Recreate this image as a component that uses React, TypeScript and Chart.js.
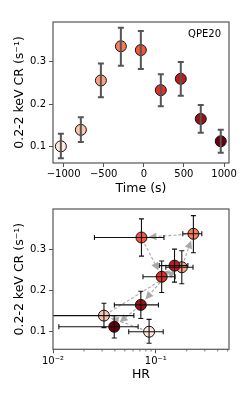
import React, { useEffect, useRef } from "react";
import { Chart, registerables } from "chart.js";
Chart.register(...registerables);

const times = [-1034, -785, -535, -286, -37, 212, 461, 710, 959];
const rates = [0.1, 0.139, 0.256, 0.337, 0.328, 0.233, 0.26, 0.165, 0.112];
const rateLo = [0.072, 0.11, 0.216, 0.291, 0.283, 0.195, 0.22, 0.132, 0.085];
const rateHi = [0.13, 0.169, 0.296, 0.381, 0.373, 0.271, 0.3, 0.198, 0.139];
const hr = [0.086, 0.0313, 0.179, 0.232, 0.0725, 0.114, 0.152, 0.0715, 0.0394];
const hrLo = [0.0545, 0.004, 0.125, 0.183, 0.0253, 0.075, 0.108, 0.0395, 0.0114];
const hrHi = [0.118, 0.0612, 0.23, 0.28, 0.12, 0.154, 0.205, 0.106, 0.0673];
const colors = ["#fde6dc", "#fcc5ad", "#fca082", "#fb7a5a", "#f5553c", "#e32f27", "#c4161c", "#9f0e14", "#67000d"];
const timeTicks = [-1000, -500, 0, 500, 1000];
const rateTicks = [0.1, 0.2, 0.3];
const hrTicks = [0.01, 0.1];
const hrTickLabels = ["10⁻²", "10⁻¹"];
const hrMinorTicks = [0.02, 0.03, 0.04, 0.05, 0.06, 0.07, 0.08, 0.09, 0.2, 0.3, 0.4, 0.5];
const yLabel = "0.2-2 keV CR (s⁻¹)";
const xLabelTop = "Time (s)";
const xLabelBottom = "HR";
const annotation = "QPE20";

const FONT = "'DejaVu Sans', sans-serif";
const FRAME = "#555";

const framePlugin = {
  id: "frame",
  afterDraw(chart: any) {
    const { ctx, chartArea: a } = chart;
    ctx.save();
    ctx.strokeStyle = FRAME;
    ctx.lineWidth = 1.2;
    ctx.strokeRect(a.left, a.top, a.right - a.left, a.bottom - a.top);
    ctx.restore();
  },
};

function makeErrPlugin(xs: number[], ys: number[], yLo: number[], yHi: number[], xLo: number[] | null, xHi: number[] | null, color: string, width: number, cap: number) {
  return {
    id: "errbars",
    afterDatasetsDraw(chart: any) {
      const { ctx, chartArea: a, scales } = chart;
      const sx = scales.x, sy = scales.y;
      ctx.save();
      ctx.beginPath();
      ctx.rect(a.left, a.top, a.right - a.left, a.bottom - a.top);
      ctx.clip();
      ctx.strokeStyle = color;
      ctx.lineWidth = width;
      for (let i = 0; i < xs.length; i++) {
        const px = sx.getPixelForValue(xs[i]);
        const py = sy.getPixelForValue(ys[i]);
        const y1 = sy.getPixelForValue(yLo[i]);
        const y2 = sy.getPixelForValue(yHi[i]);
        ctx.beginPath();
        ctx.moveTo(px, y1); ctx.lineTo(px, y2);
        ctx.moveTo(px - cap, y1); ctx.lineTo(px + cap, y1);
        ctx.moveTo(px - cap, y2); ctx.lineTo(px + cap, y2);
        if (xLo && xHi) {
          const x1 = sx.getPixelForValue(xLo[i]);
          const x2 = sx.getPixelForValue(xHi[i]);
          ctx.moveTo(x1, py); ctx.lineTo(x2, py);
          ctx.moveTo(x1, py - cap); ctx.lineTo(x1, py + cap);
          ctx.moveTo(x2, py - cap); ctx.lineTo(x2, py + cap);
        }
        ctx.stroke();
      }
      ctx.restore();
    },
  };
}

const arrowPlugin = {
  id: "arrows",
  beforeDatasetsDraw(chart: any) {
    const { ctx, scales } = chart;
    const sx = scales.x, sy = scales.y;
    ctx.save();
    ctx.strokeStyle = "#a8a8a8";
    ctx.fillStyle = "#a8a8a8";
    ctx.lineWidth = 1.1;
    for (let i = 0; i < hr.length - 1; i++) {
      const x0 = sx.getPixelForValue(hr[i]), y0 = sy.getPixelForValue(rates[i]);
      const x1 = sx.getPixelForValue(hr[i + 1]), y1 = sy.getPixelForValue(rates[i + 1]);
      const dx = x1 - x0, dy = y1 - y0;
      const len = Math.hypot(dx, dy);
      if (len < 16) continue;
      const ux = dx / len, uy = dy / len;
      const sxp = x0 + ux * 7, syp = y0 + uy * 7;
      const ex = x1 - ux * 7, ey = y1 - uy * 7;
      const hl = 8, hw = 3.8;
      const bx = ex - ux * hl, by = ey - uy * hl;
      ctx.setLineDash([3, 2]);
      ctx.beginPath();
      ctx.moveTo(sxp, syp); ctx.lineTo(bx, by);
      ctx.stroke();
      ctx.setLineDash([]);
      ctx.beginPath();
      ctx.moveTo(ex, ey);
      ctx.lineTo(bx - uy * hw, by + ux * hw);
      ctx.lineTo(bx + uy * hw, by - ux * hw);
      ctx.closePath();
      ctx.fill();
    }
    ctx.restore();
  },
};

const minorPlugin = {
  id: "minor",
  afterDraw(chart: any) {
    const { ctx, chartArea: a, scales } = chart;
    ctx.save();
    ctx.strokeStyle = FRAME;
    ctx.lineWidth = 0.8;
    ctx.beginPath();
    for (const v of hrMinorTicks) {
      const px = scales.x.getPixelForValue(v);
      if (px < a.left || px > a.right) continue;
      ctx.moveTo(px, a.bottom); ctx.lineTo(px, a.bottom + 2.2);
    }
    ctx.stroke();
    ctx.restore();
  },
};

const annotPlugin = {
  id: "annot",
  afterDraw(chart: any) {
    const { ctx, chartArea: a } = chart;
    ctx.save();
    ctx.font = `10px ${FONT}`;
    ctx.fillStyle = "#000";
    ctx.textAlign = "right";
    ctx.textBaseline = "middle";
    ctx.fillText(annotation, a.right - 8, a.top + 12);
    ctx.restore();
  },
};

function yScale(min: number, max: number) {
  return {
    type: "linear",
    min, max,
    afterBuildTicks: (s: any) => { s.ticks = rateTicks.map((v) => ({ value: v })); },
    afterFit: (s: any) => { s.width = 53; },
    ticks: { color: "#000", font: { family: FONT, size: 10 }, padding: 3, callback: (v: any) => Number(v).toFixed(1) },
    grid: { display: true, drawOnChartArea: false, drawTicks: true, tickLength: 4, tickColor: FRAME, tickWidth: 1 },
    border: { display: false },
    title: { display: true, text: yLabel, color: "#000", font: { family: FONT, size: 12.5 }, padding: { top: 12.5, bottom: 0 } },
  };
}

export default function App() {
  const topRef = useRef<HTMLCanvasElement>(null);
  const botRef = useRef<HTMLCanvasElement>(null);

  useEffect(() => {
    const c1 = new Chart(topRef.current as HTMLCanvasElement, {
      type: "scatter",
      data: {
        datasets: [{
          data: times.map((t, i) => ({ x: t, y: rates[i] })),
          backgroundColor: colors,
          borderColor: "#111",
          pointRadius: 5.5,
          pointBorderWidth: 1,
          pointHoverRadius: 5.5,
        }],
      },
      options: {
        animation: false,
        responsive: false,
        events: [],
        layout: { padding: { left: 0, right: 17, top: 22, bottom: 0 } },
        plugins: { legend: { display: false }, tooltip: { enabled: false } },
        scales: {
          x: {
            type: "linear",
            min: -1132, max: 1062,
            afterBuildTicks: (s: any) => { s.ticks = timeTicks.map((v) => ({ value: v })); },
            afterFit: (s: any) => { s.height = 37; },
            ticks: { color: "#000", font: { family: FONT, size: 10 }, padding: 1, maxRotation: 0, callback: (v: any) => (v < 0 ? "−" + Math.abs(v) : String(v)) },
            grid: { display: true, drawOnChartArea: false, drawTicks: true, tickLength: 4, tickColor: FRAME, tickWidth: 1 },
            border: { display: false },
            title: { display: true, text: xLabelTop, color: "#000", font: { family: FONT, size: 12.5 }, padding: { top: 0, bottom: 3.5 } },
          },
          y: yScale(0.0605, 0.3945) as any,
        },
      } as any,
      plugins: [makeErrPlugin(times, rates, rateLo, rateHi, null, null, "#555", 2, 3), framePlugin, annotPlugin],
    });

    const c2 = new Chart(botRef.current as HTMLCanvasElement, {
      type: "scatter",
      data: {
        datasets: [{
          data: hr.map((h, i) => ({ x: h, y: rates[i] })),
          backgroundColor: colors,
          borderColor: "#111",
          pointRadius: 5.5,
          pointBorderWidth: 1,
          pointHoverRadius: 5.5,
        }],
      },
      options: {
        animation: false,
        responsive: false,
        events: [],
        layout: { padding: { left: 0, right: 17, top: 6, bottom: 0 } },
        plugins: { legend: { display: false }, tooltip: { enabled: false } },
        scales: {
          x: {
            type: "logarithmic",
            min: 0.01, max: 0.515,
            afterBuildTicks: (s: any) => { s.ticks = hrTicks.map((v) => ({ value: v })); },
            afterFit: (s: any) => { s.height = 43.7; },
            ticks: { color: "#000", font: { family: FONT, size: 10 }, padding: 2, maxRotation: 0, callback: (v: any) => hrTickLabels[hrTicks.indexOf(Number(v))] ?? "" },
            grid: { display: true, drawOnChartArea: false, drawTicks: true, tickLength: 4, tickColor: FRAME, tickWidth: 1 },
            border: { display: false },
            title: { display: true, text: xLabelBottom, color: "#000", font: { family: FONT, size: 12.5 }, padding: { top: 0, bottom: 11 } },
          },
          y: yScale(0.0575, 0.397) as any,
        },
      } as any,
      plugins: [arrowPlugin, makeErrPlugin(hr, rates, rateLo, rateHi, hrLo, hrHi, "#111", 1.1, 2.5), framePlugin, minorPlugin],
    });

    return () => { c1.destroy(); c2.destroy(); };
  }, []);

  return (
    <div style={{ position: "fixed", left: 0, top: 0, width: 246, height: 393, background: "#fff" }}>
      <canvas ref={topRef} width={246} height={200} style={{ position: "absolute", left: 0, top: 0, width: 246, height: 200 }} />
      <canvas ref={botRef} width={246} height={193} style={{ position: "absolute", left: 0, top: 200, width: 246, height: 193 }} />
    </div>
  );
}
